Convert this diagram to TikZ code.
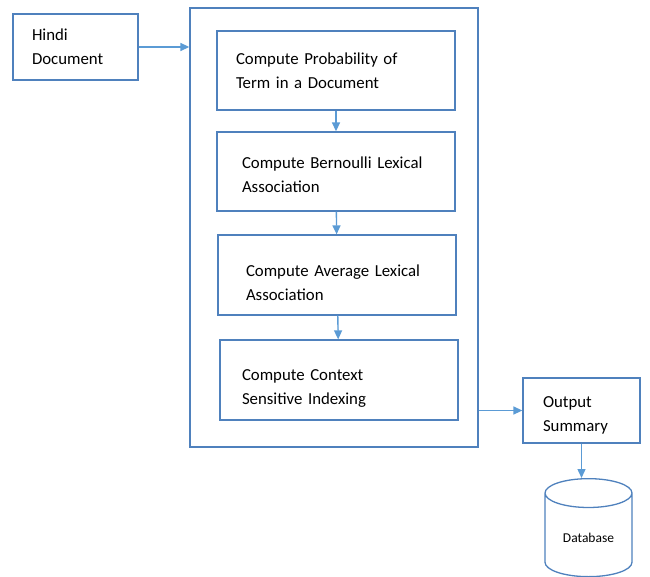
\documentclass[tikz,border=0pt]{standalone}
\usepackage{fontspec}
\setmainfont{Carlito}
\usetikzlibrary{arrows.meta,shapes.geometric}
\definecolor{boxblue}{RGB}{79,129,189}
\definecolor{arrblue}{RGB}{91,155,213}
\newcommand{\boxfont}{\fontsize{16.8}{24}\selectfont\hyphenpenalty=10000\relax}
\newcommand{\topgap}[1]{\rule{0pt}{#1}}
\begin{document}
\begin{tikzpicture}[
    x=1pt, y=-1pt,
    box/.style={draw=boxblue, line width=1.3pt, minimum width=238pt, minimum height=79pt, text width=200pt, align=left, inner xsep=19pt, font=\boxfont},
    arr/.style={-{Triangle[length=9pt,width=8pt]}, draw=arrblue, fill=arrblue, line width=1.4pt},
]
\useasboundingbox (0,0) rectangle (650,577);

\node[box, minimum width=125pt, minimum height=66pt, text width=87pt] (hindi) at (75.5,47) {Hindi\\Document};
\node[draw=boxblue, line width=1.3pt, minimum width=288pt, minimum height=439pt] (proc) at (334,227.5) {};

\node[box] (prob) at (336,70.5) {Compute Probability of\\Term in a Document};
\node[box, inner xsep=25pt, text width=188pt] (bern) at (336,171.5) {\topgap{19pt}Compute Bernoulli Lexical\\Association};
\node[box, inner xsep=28pt, text width=182pt, minimum height=80pt] (avg) at (337,275) {\topgap{28pt}Compute Average Lexical\\Association};
\node[box, inner xsep=22pt, text width=194pt, minimum height=80pt] (csi) at (339,380) {\topgap{27pt}Compute Context\\Sensitive Indexing};

\node[box, minimum width=117pt, minimum height=65pt, text width=77pt, inner xsep=20pt] (out) at (581.5,410.5) {\topgap{21pt}Output\\Summary};
\node[draw=boxblue, line width=1.3pt, cylinder, shape border rotate=90, aspect=0.5, minimum width=87pt, minimum height=98pt, anchor=north, font=\fontsize{13.5}{16}\selectfont] (db) at (588.5,478) {Database};

\draw[arr] (hindi.east) -- (hindi.east -| proc.west);
\draw[arr] (prob) -- (bern);
\draw[arr] (bern) -- (avg);
\draw[arr] (avg) -- (csi);
\draw[arr] (out.west -| proc.east) -- (out.west);
\draw[arr] (out.south) -- (out.south |- db.north);

\end{tikzpicture}
\end{document}
